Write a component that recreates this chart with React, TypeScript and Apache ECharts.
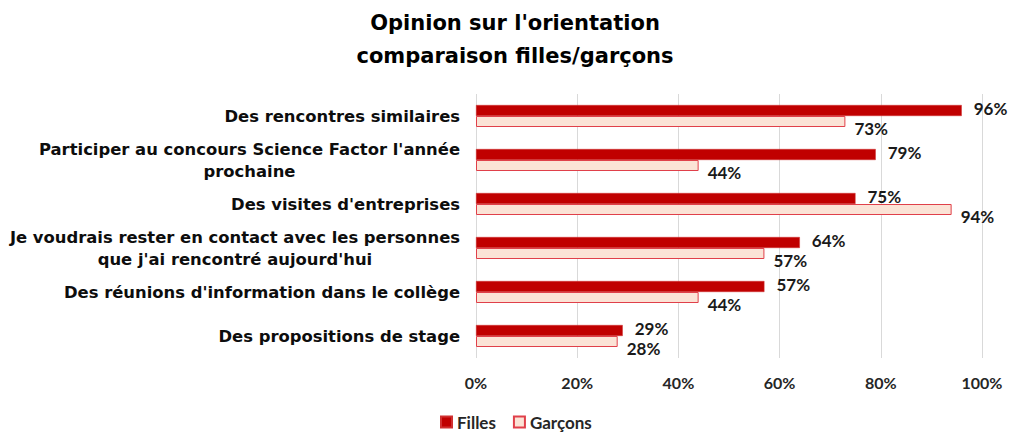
import React, { useEffect, useRef } from "react";
import * as echarts from "echarts";

const categories = [
  "Des rencontres similaires",
  "Participer au concours Science Factor l'année\nprochaine",
  "Des visites d'entreprises",
  "Je voudrais rester en contact avec les personnes\nque j'ai rencontré aujourd'hui",
  "Des réunions d'information dans le collège",
  "Des propositions de stage",
];
const filles = [96, 79, 75, 64, 57, 29];
const garcons = [73, 44, 94, 57, 44, 28];
const seriesNames = ["Filles", "Garçons"];
const xTicks = [0, 20, 40, 60, 80, 100];

export default function App() {
  const ref = useRef<HTMLDivElement>(null);
  useEffect(() => {
    if (!ref.current) return;
    const chart = echarts.init(ref.current, undefined, { renderer: "svg" });
    const labelFont = "Lato, sans-serif";
    const wideFont = "'DejaVu Sans', 'Liberation Sans', Arial, sans-serif";
    chart.setOption({
      animation: false,
      backgroundColor: "#ffffff",
      title: {
        text: "Opinion sur l'orientation\ncomparaison filles/garçons",
        left: 510,
        textAlign: "center",
        top: 1,
        textStyle: {
          fontFamily: wideFont,
          fontWeight: "bold",
          fontSize: 21,
          lineHeight: 33,
          color: "#000000",
        },
      },
      legend: {
        top: 413,
        left: 440,
        padding: 0,
        itemWidth: 11,
        itemHeight: 11,
        itemGap: 17,
        icon: "rect",
        data: seriesNames,
        textStyle: {
          fontFamily: labelFont,
          fontWeight: "bold",
          fontSize: 17,
          lineHeight: 18,
          color: "#262626",
        },
      },
      grid: { left: 476, right: 29, top: 94, bottom: 74, containLabel: false },
      xAxis: {
        type: "value",
        min: 0,
        max: 100,
        interval: 20,
        axisLine: { show: false },
        axisTick: { show: false },
        splitLine: { show: true, lineStyle: { color: "#D9D9D9", width: 1 } },
        axisLabel: {
          formatter: (v: number) => (xTicks.includes(v) ? v + "%" : ""),
          fontFamily: labelFont,
          fontWeight: "bold",
          fontSize: 16,
          color: "#262626",
          margin: 16,
        },
      },
      yAxis: {
        type: "category",
        data: categories,
        inverse: true,
        axisLine: { show: false },
        axisTick: { show: false },
        axisLabel: {
          margin: 16,
          align: "right",
          formatter: (v: string) =>
            v
              .split("\n")
              .map((l) => "{c|" + l + "}")
              .join("\n"),
          rich: {
            c: {
              align: "center",
              fontFamily: wideFont,
              fontWeight: "bold",
              fontSize: 16.4,
              lineHeight: 22,
              color: "#0d0d0d",
            },
          },
        },
      },
      series: [
        {
          name: seriesNames[0],
          type: "bar",
          data: filles,
          barGap: "0%",
          barCategoryGap: "50%",
          itemStyle: { color: "#C00000", borderColor: "#D03030", borderWidth: 0.5 },
          label: {
            show: true,
            position: "right",
            distance: 12,
            offset: [0, -2],
            lineHeight: 18,
            formatter: "{c}%",
            fontFamily: labelFont,
            fontWeight: "bold",
            fontSize: 17,
            color: "#1a1a1a",
          },
        },
        {
          name: seriesNames[1],
          type: "bar",
          data: garcons,
          barGap: "0%",
          barCategoryGap: "50%",
          itemStyle: { color: "#FBE3D6", borderColor: "#E0404A", borderWidth: 1 },
          label: {
            show: true,
            position: "right",
            distance: 9,
            offset: [0, 7],
            lineHeight: 18,
            formatter: "{c}%",
            fontFamily: labelFont,
            fontWeight: "bold",
            fontSize: 17,
            color: "#1a1a1a",
          },
        },
      ],
    });
    return () => chart.dispose();
  }, []);
  return (
    <div
      ref={ref}
      style={{ position: "fixed", left: 0, top: 0, width: 1011, height: 432 }}
    />
  );
}
